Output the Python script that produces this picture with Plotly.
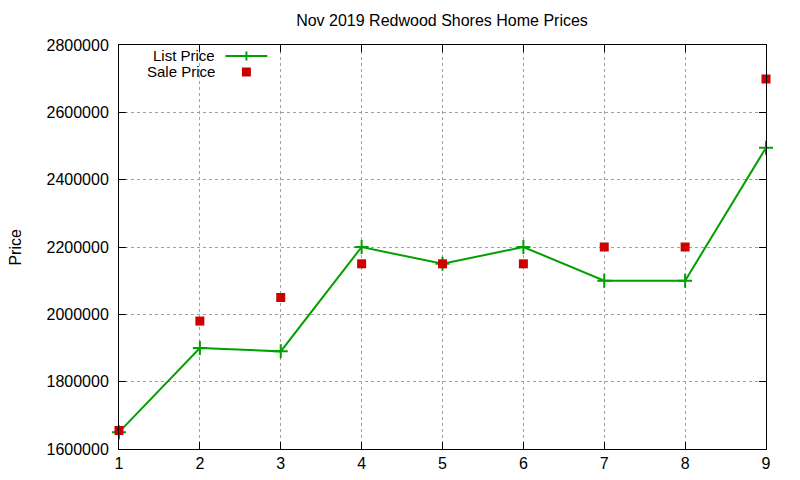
import plotly.graph_objects as go

# Listing index 1..9 for the Nov 2019 sales
listing = [1, 2, 3, 4, 5, 6, 7, 8, 9]
list_price = [1650000, 1900000, 1890000, 2200000, 2150000, 2200000, 2100000, 2100000, 2495000]
sale_price = [1655000, 1980000, 2050000, 2150000, 2150000, 2150000, 2200000, 2200000, 2699000]

y_ticks = [1600000, 1800000, 2000000, 2200000, 2400000, 2600000, 2800000]

GREEN = "#00a000"
RED = "#cc0000"
FONT = "Liberation Sans, Arial, sans-serif"

# the page body has an 8px margin, so lay out everything 8px up/left
OFF = 8
W, H = 800, 480
# plot box in screen pixels (gnuplot style frame)
L, R, T, B = 118.5 - OFF, 766 - OFF, 45 - OFF, 449 - OFF


def px(x):
    return (x - OFF - L) / (R - L)


def py(y):
    return (B - (y - OFF)) / (B - T)


fig = go.Figure()

fig.add_trace(go.Scatter(
    x=listing, y=list_price,
    mode="lines+markers",
    name="List Price",
    line=dict(color=GREEN, width=2),
    marker=dict(symbol="cross-thin", size=10, line=dict(color=GREEN, width=2)),
    cliponaxis=False,
))

fig.add_trace(go.Scatter(
    x=listing, y=sale_price,
    mode="markers",
    name="Sale Price",
    marker=dict(symbol="square", size=9, color=RED),
    cliponaxis=False,
))

# hand-made legend: text on the left, key on the right (gnuplot layout)
shapes = [
    dict(type="line", xref="paper", yref="paper",
         x0=px(225), x1=px(267), y0=py(56), y1=py(56),
         line=dict(color=GREEN, width=2)),
    dict(type="line", xref="paper", yref="paper",
         x0=px(246), x1=px(246), y0=py(51.5), y1=py(60.5),
         line=dict(color=GREEN, width=2)),
    dict(type="rect", xref="paper", yref="paper",
         x0=px(241.5), x1=px(250.5), y0=py(67.5), y1=py(76.5),
         fillcolor=RED, line=dict(width=0)),
]

annotations = [
    dict(text="List Price", xref="paper", yref="paper", x=px(217), y=py(55),
         xanchor="right", yanchor="middle", showarrow=False,
         font=dict(size=15, color="black", family=FONT)),
    dict(text="Sale Price", xref="paper", yref="paper", x=px(217), y=py(71.5),
         xanchor="right", yanchor="middle", showarrow=False,
         font=dict(size=15, color="black", family=FONT)),
    # y axis label, placed like gnuplot's
    dict(text="Price", xref="paper", yref="paper", x=px(14), y=py(247),
         xanchor="center", yanchor="middle", textangle=-90, showarrow=False,
         font=dict(size=16, color="black", family=FONT)),
]

fig.update_layout(
    width=W, height=H,
    margin=dict(l=L, r=W - R, t=T, b=H - B, pad=0, autoexpand=False),
    paper_bgcolor="white",
    plot_bgcolor="white",
    showlegend=False,
    font=dict(family=FONT, size=16, color="black"),
    title=dict(text="Nov 2019 Redwood Shores Home Prices",
               x=(442 - OFF) / W, xanchor="center", y=1 - (20 - OFF) / H, yanchor="middle",
               font=dict(size=16, family=FONT)),
    shapes=shapes,
    annotations=annotations,
)

fig.update_xaxes(
    range=[1, 9],
    tickvals=listing,
    ticks="inside", ticklen=7, tickcolor="black",
    showline=True, linecolor="black", linewidth=1, mirror="allticks",
    showgrid=True, gridcolor="#a0a0a0", griddash="dot", gridwidth=1,
    zeroline=False, automargin=False,
    tickfont=dict(size=16),
)

fig.update_yaxes(
    range=[1600000, 2800000],
    tickvals=y_ticks,
    ticktext=[str(v) for v in y_ticks],
    ticks="inside", ticklen=7, tickcolor="black",
    showline=True, linecolor="black", linewidth=1, mirror="allticks",
    showgrid=True, gridcolor="#a0a0a0", griddash="dot", gridwidth=1,
    zeroline=False, automargin=False,
    tickfont=dict(size=16),
    ticklabelstandoff=6,
)

fig.write_html("out.html")
